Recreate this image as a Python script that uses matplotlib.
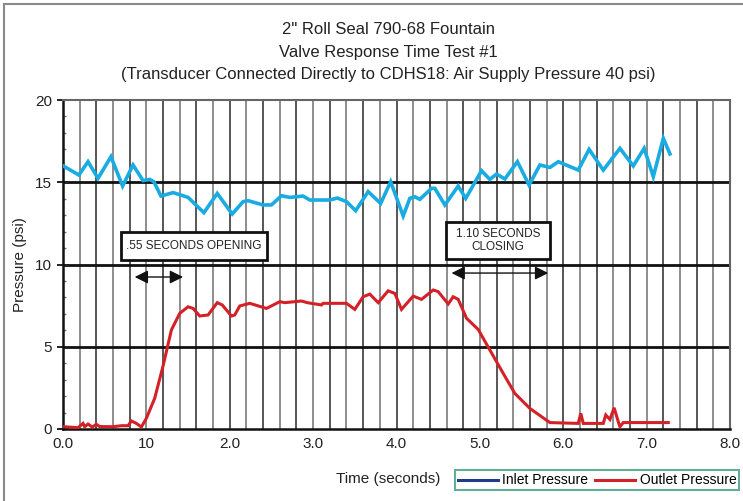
"""
Valve response time test: inlet / outlet pressure vs time
"""

import numpy as np
import matplotlib.pyplot as plt
from matplotlib.patches import Rectangle
from matplotlib.lines import Line2D

plt.rcParams['font.family'] = ['Liberation Sans', 'DejaVu Sans']

# inlet pressure (psi)
inlet_t = [0.00, 0.19, 0.30, 0.42, 0.575, 0.715, 0.84, 0.96, 1.04, 1.09, 1.175, 1.32,
           1.50, 1.69, 1.85, 2.03, 2.16, 2.22, 2.40, 2.50, 2.62, 2.72, 2.88, 2.96,
           3.20, 3.29, 3.40, 3.51, 3.66, 3.81, 3.93, 4.08, 4.16, 4.22, 4.28, 4.42,
           4.46, 4.58, 4.74, 4.83, 5.02, 5.12, 5.20, 5.30, 5.45, 5.59, 5.72, 5.84,
           5.94, 6.18, 6.31, 6.48, 6.68, 6.84, 6.97, 7.08, 7.20, 7.28]
inlet_p = [16.0, 15.44, 16.25, 15.24, 16.55, 14.77, 16.05, 15.1, 15.17, 15.03, 14.16, 14.37,
           14.08, 13.15, 14.32, 13.07, 13.82, 13.88, 13.62, 13.62, 14.18, 14.08, 14.16, 13.92,
           13.92, 14.04, 13.82, 13.27, 14.43, 13.71, 15.03, 12.95, 14.02, 14.12, 13.96, 14.63,
           14.63, 13.62, 14.77, 14.02, 15.70, 15.17, 15.50, 15.2, 16.25, 14.83, 16.05, 15.9,
           16.25, 15.74, 17.0, 15.74, 17.06, 15.99, 17.06, 15.34, 17.67, 16.72]

# outlet pressure (psi)
outlet_t = [0.00, 0.18, 0.24, 0.26, 0.30, 0.35, 0.40, 0.44, 0.60, 0.70, 0.78, 0.82,
            0.88, 0.94, 1.00, 1.10, 1.20, 1.30, 1.40, 1.50, 1.56, 1.64, 1.74, 1.85,
            1.91, 2.02, 2.06, 2.12, 2.24, 2.44, 2.60, 2.66, 2.86, 2.93, 3.10, 3.12,
            3.40, 3.50, 3.60, 3.68, 3.78, 3.90, 3.98, 4.06, 4.20, 4.30, 4.44, 4.50,
            4.62, 4.68, 4.74, 4.84, 4.98, 5.12, 5.28, 5.42, 5.60, 5.84, 6.18, 6.21,
            6.24, 6.48, 6.51, 6.56, 6.61, 6.66, 6.68, 6.72, 7.04, 7.26]
outlet_p = [0.14, 0.08, 0.34, 0.14, 0.30, 0.12, 0.28, 0.15, 0.14, 0.20, 0.20, 0.49,
            0.34, 0.12, 0.65, 1.87, 3.83, 6.02, 7.03, 7.43, 7.33, 6.87, 6.93, 7.68,
            7.54, 6.87, 6.93, 7.48, 7.64, 7.33, 7.74, 7.68, 7.78, 7.68, 7.54, 7.64,
            7.64, 7.27, 8.04, 8.20, 7.68, 8.40, 8.24, 7.27, 8.08, 7.88, 8.45, 8.35,
            7.60, 8.04, 7.88, 6.73, 6.05, 4.80, 3.38, 2.16, 1.25, 0.39, 0.34, 0.95,
            0.34, 0.34, 0.85, 0.58, 1.29, 0.44, 0.14, 0.39, 0.39, 0.39]

x_ticks = [0, 1, 2, 3, 4, 5, 6, 7, 8]
x_labels = ['0.0', '10', '2.0', '3.0', '4.0', '5.0', '6.0', '7.0', '8.0']
y_ticks = [0, 5, 10, 15, 20]

title_lines = ['2" Roll Seal 790-68 Fountain',
               'Valve Response Time Test #1',
               '(Transducer Connected Directly to CDHS18: Air Supply Pressure 40 psi)']

fig = plt.figure(figsize=(7.43, 5.01), dpi=100, facecolor='white')
ax = fig.add_axes([63 / 743, 1 - 429 / 501, (730 - 63) / 743, (429 - 100) / 501])

# vertical grid every 0.2 s
for i, xv in enumerate(np.arange(0.2, 8.0, 0.2)):
    ax.axvline(xv, color='#3a3a3a' if i % 2 else '#7a7a7a', lw=1.2, zorder=1)
for yv in [5, 10, 15]:
    ax.axhline(yv, color='#111111', lw=2.0, zorder=1)

blue = '#18ace2'
red = '#d42027'
ax.plot(inlet_t, inlet_p, color=blue, lw=2.6, zorder=4, solid_joinstyle='miter')
ax.plot(outlet_t, outlet_p, color=red, lw=2.2, zorder=4, solid_joinstyle='miter')

ax.set_xlim(0, 8)
ax.set_ylim(0, 20)
ax.set_xticks(x_ticks)
ax.set_xticklabels(x_labels)
ax.set_yticks(y_ticks)
ax.set_yticks(range(0, 21), minor=True)
ax.tick_params(axis='x', length=0, pad=6, labelsize=11, colors='#222222')
ax.tick_params(axis='y', which='major', direction='inout', length=8, width=1.4, pad=4,
               labelsize=11, colors='#222222')
ax.tick_params(axis='y', which='minor', direction='in', length=2, width=1, color='#558855')

for side in ['left', 'bottom']:
    ax.spines[side].set_color('#111111')
    ax.spines[side].set_linewidth(1.8)
for side in ['top', 'right']:
    ax.spines[side].set_color('#666666')
    ax.spines[side].set_linewidth(1.5)

ax.set_ylabel('Pressure (psi)', fontsize=11, color='#222222', va='center')
ax.yaxis.set_label_coords((20 - 63) / 667, 0.5)

# annotation boxes
ax.add_patch(Rectangle((0.695, 10.27), 2.45 - 0.695, 11.98 - 10.27, facecolor='white',
                       edgecolor='#111111', lw=2, zorder=5))
ax.text(1.57, 11.12, '.55 SECONDS OPENING', ha='center', va='center', fontsize=8.5,
        color='#222222', zorder=6)
ax.add_patch(Rectangle((4.59, 10.33), 5.84 - 4.59, 12.58 - 10.33, facecolor='white',
                       edgecolor='#111111', lw=2, zorder=5))
ax.text(5.215, 11.47, '1.10 SECONDS\nCLOSING', ha='center', va='center', fontsize=8.5,
        color='#222222', linespacing=1.15, zorder=6)

arrow = dict(arrowstyle='<|-|>', color='#111111', lw=1.0, mutation_scale=20,
             shrinkA=0, shrinkB=0)
ax.annotate('', xy=(0.86, 9.24), xytext=(1.44, 9.24), arrowprops=arrow, zorder=6)
ax.annotate('', xy=(4.66, 9.48), xytext=(5.82, 9.48), arrowprops=arrow, zorder=6)

for line, ypix in zip(title_lines, [30, 53, 75]):
    fig.text(388 / 743, 1 - ypix / 501, line, ha='center', va='center', fontsize=12,
             color='#222222')
fig.text(388 / 743, 1 - 479 / 501, 'Time (seconds)', ha='center', va='center',
         fontsize=11, color='#222222')

handles = [Line2D([], [], color='#1f3c8c', lw=2.2),
           Line2D([], [], color=red, lw=2.2)]
leg = fig.legend(handles, ['Inlet Pressure', 'Outlet Pressure'], loc='center',
                 bbox_to_anchor=(597 / 743, 1 - 480 / 501), ncol=2, fontsize=10,
                 handlelength=2.9, handletextpad=0.3, columnspacing=0.5,
                 borderpad=0.2, borderaxespad=0, handleheight=0.5, fancybox=False,
                 frameon=True)
leg.get_frame().set_edgecolor('#3c9a7c')
leg.get_frame().set_linewidth(1.5)

# outer frame
fig.patches.append(Rectangle((4 / 743, -0.01), 1.0, 1 - 4 / 501 + 0.01,
                             transform=fig.transFigure, fill=False,
                             edgecolor='#8a8a8a', lw=1.5))

fig.savefig('out.png', dpi=100, facecolor='white')
